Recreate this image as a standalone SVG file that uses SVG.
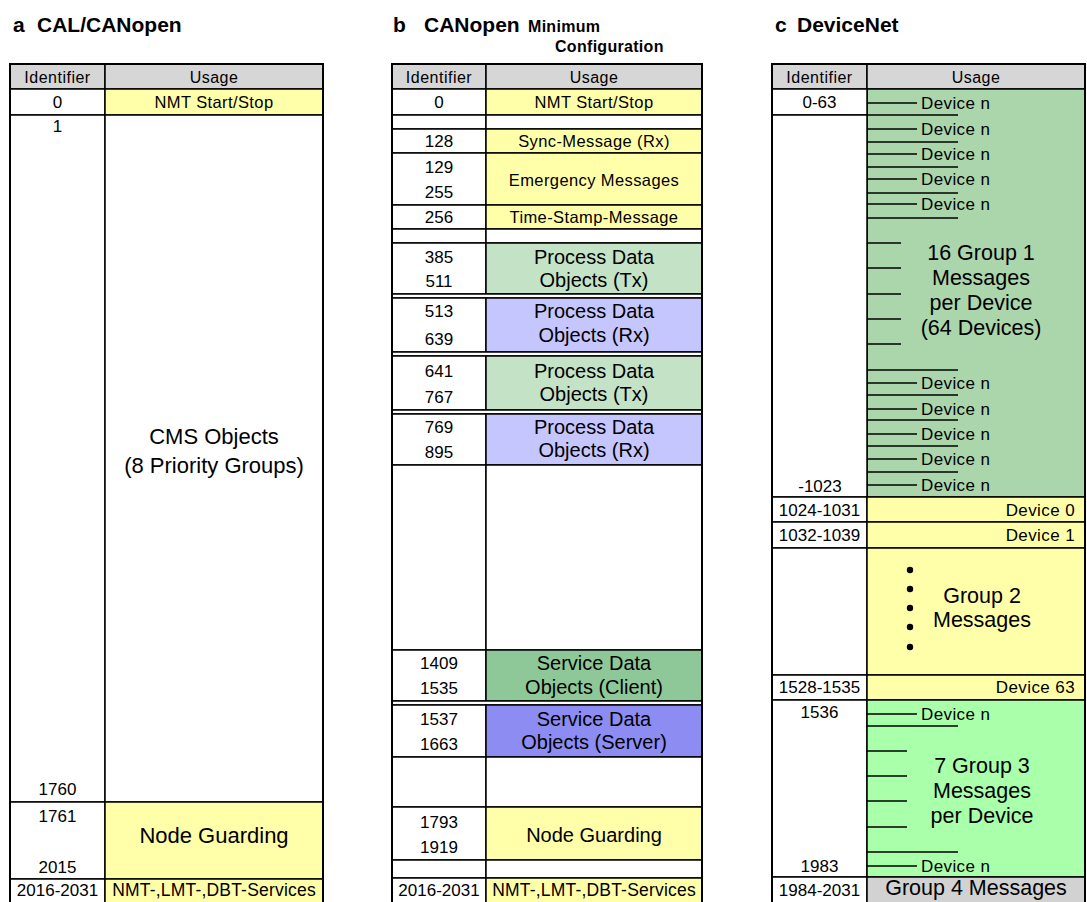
<svg xmlns="http://www.w3.org/2000/svg" width="1087" height="902" viewBox="0 0 1087 902">
<style>
text{font-family:"Liberation Sans",Arial,Helvetica,sans-serif;fill:#000}
.ttl{font-size:21px;font-weight:bold}
.sub{font-size:16px;font-weight:bold;letter-spacing:0.3px}
.hd{font-size:16px;letter-spacing:0.5px;text-anchor:middle}
.num{font-size:17px;text-anchor:middle}
.sm{font-size:16.5px;letter-spacing:0.4px;text-anchor:middle}
.big{font-size:20px;text-anchor:middle}
.big22{font-size:22px;text-anchor:middle}
.grp{font-size:21.5px;text-anchor:middle}
.dev{font-size:17px;letter-spacing:0.4px}
.devr{font-size:17px;letter-spacing:0.4px;text-anchor:end}
.c{stroke:#000;stroke-width:1.5}
.w{fill:#fff}.h{fill:#d6d6d6}.y{fill:#ffffaa}.gt{fill:#c4e3c6}.bl{fill:#c6c6ff}
.sc{fill:#8fc898}.ss{fill:#8c8cf2}.g1{fill:#abd6ab}.g3{fill:#aaffaa}.g4{fill:#d2d2d2}
.ob{fill:none;stroke:#000;stroke-width:2}
.tk{stroke:#000;stroke-width:1.6}
</style>

<!-- Titles -->
<g id="title-a"><text class="ttl" x="13" y="32">a</text><text class="ttl" x="37" y="32">CAL/CANopen</text></g>
<g id="title-b"><text class="ttl" x="393" y="32">b</text><text class="ttl" x="424" y="32">CANopen</text><text class="sub" x="528" y="32">Minimum</text><text class="sub" x="555" y="52">Configuration</text></g>
<g id="title-c"><text class="ttl" x="775" y="32">c</text><text class="ttl" x="797" y="32">DeviceNet</text></g>

<!-- Table a -->
<g id="table-a">
  <g id="a-header"><rect class="c h" x="10" y="64" width="95" height="25"/><rect class="c h" x="105" y="64" width="218" height="25"/>
    <text class="hd" x="57.5" y="83">Identifier</text><text class="hd" x="214" y="83">Usage</text></g>
  <g id="a-nmt"><rect class="c w" x="10" y="89" width="95" height="26"/><rect class="c y" x="105" y="89" width="218" height="26"/>
    <text class="num" x="57.5" y="108">0</text><text class="sm" x="214" y="108">NMT Start/Stop</text></g>
  <g id="a-cms"><rect class="c w" x="10" y="115" width="95" height="687"/><rect class="c w" x="105" y="115" width="218" height="687"/>
    <text class="num" x="57.5" y="132">1</text><text class="num" x="57.5" y="795">1760</text>
    <text class="big22" x="214" y="444">CMS Objects</text><text class="big22" x="214" y="473">(8 Priority Groups)</text></g>
  <g id="a-ng"><rect class="c w" x="10" y="802" width="95" height="77"/><rect class="c y" x="105" y="802" width="218" height="77"/>
    <text class="num" x="57.5" y="822">1761</text><text class="num" x="57.5" y="873">2015</text>
    <text class="big22" x="214" y="843">Node Guarding</text></g>
  <g id="a-srv"><rect class="c w" x="10" y="879" width="95" height="26"/><rect class="c y" x="105" y="879" width="218" height="26"/>
    <text class="num" x="57.5" y="896">2016-2031</text><text class="sm" x="214" y="896" style="font-size:17.5px;letter-spacing:0.2px">NMT-,LMT-,DBT-Services</text></g>
  <rect class="ob" x="10" y="64" width="313" height="841"/>
</g>

<!-- Table b -->
<g id="table-b">
  <g id="b-header"><rect class="c h" x="392" y="64" width="94" height="25"/><rect class="c h" x="486" y="64" width="216" height="25"/>
    <text class="hd" x="439" y="83">Identifier</text><text class="hd" x="594" y="83">Usage</text></g>
  <g id="b-nmt"><rect class="c w" x="392" y="89" width="94" height="26"/><rect class="c y" x="486" y="89" width="216" height="26"/>
    <text class="num" x="439" y="108">0</text><text class="sm" x="594" y="108">NMT Start/Stop</text></g>
  <g id="b-e1"><rect class="c w" x="392" y="115" width="94" height="14"/><rect class="c w" x="486" y="115" width="216" height="14"/></g>
  <g id="b-sync"><rect class="c w" x="392" y="129" width="94" height="24"/><rect class="c y" x="486" y="129" width="216" height="24"/>
    <text class="num" x="439" y="147">128</text><text class="sm" x="594" y="147">Sync-Message (Rx)</text></g>
  <g id="b-emcy"><rect class="c w" x="392" y="153" width="94" height="52"/><rect class="c y" x="486" y="153" width="216" height="52"/>
    <text class="num" x="439" y="173">129</text><text class="num" x="439" y="198">255</text><text class="sm" x="594" y="186">Emergency Messages</text></g>
  <g id="b-time"><rect class="c w" x="392" y="205" width="94" height="24"/><rect class="c y" x="486" y="205" width="216" height="24"/>
    <text class="num" x="439" y="223">256</text><text class="sm" x="594" y="223">Time-Stamp-Message</text></g>
  <g id="b-e2"><rect class="c w" x="392" y="229" width="94" height="14"/><rect class="c w" x="486" y="229" width="216" height="14"/></g>
  <g id="b-pdo1"><rect class="c w" x="392" y="243" width="94" height="51"/><rect class="c gt" x="486" y="243" width="216" height="51"/>
    <text class="num" x="439" y="263">385</text><text class="num" x="439" y="287">511</text>
    <text class="big" x="594" y="264">Process Data</text><text class="big" x="594" y="287">Objects (Tx)</text></g>
  <rect class="c w" x="392" y="294" width="310" height="4"/>
  <g id="b-pdo2"><rect class="c w" x="392" y="298" width="94" height="54"/><rect class="c bl" x="486" y="298" width="216" height="54"/>
    <text class="num" x="439" y="317">513</text><text class="num" x="439" y="345">639</text>
    <text class="big" x="594" y="318">Process Data</text><text class="big" x="594" y="342">Objects (Rx)</text></g>
  <rect class="c w" x="392" y="352" width="310" height="4"/>
  <g id="b-pdo3"><rect class="c w" x="392" y="356" width="94" height="54"/><rect class="c gt" x="486" y="356" width="216" height="54"/>
    <text class="num" x="439" y="377">641</text><text class="num" x="439" y="403">767</text>
    <text class="big" x="594" y="378">Process Data</text><text class="big" x="594" y="401">Objects (Tx)</text></g>
  <rect class="c w" x="392" y="410" width="310" height="4"/>
  <g id="b-pdo4"><rect class="c w" x="392" y="414" width="94" height="51"/><rect class="c bl" x="486" y="414" width="216" height="51"/>
    <text class="num" x="439" y="433">769</text><text class="num" x="439" y="458">895</text>
    <text class="big" x="594" y="434">Process Data</text><text class="big" x="594" y="457">Objects (Rx)</text></g>
  <g id="b-e3"><rect class="c w" x="392" y="465" width="94" height="185"/><rect class="c w" x="486" y="465" width="216" height="185"/></g>
  <g id="b-sdoc"><rect class="c w" x="392" y="650" width="94" height="51"/><rect class="c sc" x="486" y="650" width="216" height="51"/>
    <text class="num" x="439" y="669">1409</text><text class="num" x="439" y="694">1535</text>
    <text class="big" x="594" y="670">Service Data</text><text class="big" x="594" y="694">Objects (Client)</text></g>
  <rect class="c w" x="392" y="701" width="310" height="4"/>
  <g id="b-sdos"><rect class="c w" x="392" y="705" width="94" height="52"/><rect class="c ss" x="486" y="705" width="216" height="52"/>
    <text class="num" x="439" y="725">1537</text><text class="num" x="439" y="750">1663</text>
    <text class="big" x="594" y="726">Service Data</text><text class="big" x="594" y="749">Objects (Server)</text></g>
  <g id="b-e4"><rect class="c w" x="392" y="757" width="94" height="50"/><rect class="c w" x="486" y="757" width="216" height="50"/></g>
  <g id="b-ng"><rect class="c w" x="392" y="807" width="94" height="53"/><rect class="c y" x="486" y="807" width="216" height="53"/>
    <text class="num" x="439" y="828">1793</text><text class="num" x="439" y="853">1919</text>
    <text class="big" x="594" y="842">Node Guarding</text></g>
  <g id="b-e5"><rect class="c w" x="392" y="860" width="94" height="18"/><rect class="c w" x="486" y="860" width="216" height="18"/></g>
  <g id="b-srv"><rect class="c w" x="392" y="878" width="94" height="27"/><rect class="c y" x="486" y="878" width="216" height="27"/>
    <text class="num" x="439" y="896">2016-2031</text><text class="sm" x="594" y="896" style="font-size:17.5px;letter-spacing:0.2px">NMT-,LMT-,DBT-Services</text></g>
  <rect class="ob" x="392" y="64" width="310" height="841"/>
</g>

<!-- Table c -->
<g id="table-c">
  <g id="c-header"><rect class="c h" x="772" y="64" width="95" height="25"/><rect class="c h" x="867" y="64" width="218" height="25"/>
    <text class="hd" x="819.5" y="83">Identifier</text><text class="hd" x="976" y="83">Usage</text></g>
  <g id="c-group1">
    <rect class="c g1" x="867" y="89" width="218" height="408"/>
    <rect class="c w" x="772" y="89" width="95" height="26"/><rect class="c w" x="772" y="115" width="95" height="382"/>
    <text class="num" x="819.5" y="108">0-63</text><text class="num" x="820" y="492">-1023</text>
    <text class="grp" x="981" y="260">16 Group 1</text><text class="grp" x="981" y="285">Messages</text>
    <text class="grp" x="981" y="310">per Device</text><text class="grp" x="981" y="335">(64 Devices)</text>
  </g>
  <g id="c-dev0"><rect class="c w" x="772" y="497" width="95" height="25"/><rect class="c y" x="867" y="497" width="218" height="25"/>
    <text class="num" x="819.5" y="516">1024-1031</text><text class="devr" x="1075" y="516">Device 0</text></g>
  <g id="c-dev1"><rect class="c w" x="772" y="522" width="95" height="26"/><rect class="c y" x="867" y="522" width="218" height="26"/>
    <text class="num" x="819.5" y="541">1032-1039</text><text class="devr" x="1075" y="541">Device 1</text></g>
  <g id="c-group2"><rect class="c w" x="772" y="548" width="95" height="127"/><rect class="c y" x="867" y="548" width="218" height="127"/>
    <circle cx="910" cy="570" r="3.2"/><circle cx="910" cy="589" r="3.2"/><circle cx="910" cy="608" r="3.2"/><circle cx="910" cy="627" r="3.2"/><circle cx="910" cy="647" r="3.2"/>
    <text class="grp" x="982" y="603">Group 2</text><text class="grp" x="982" y="627">Messages</text></g>
  <g id="c-dev63"><rect class="c w" x="772" y="675" width="95" height="25"/><rect class="c y" x="867" y="675" width="218" height="25"/>
    <text class="num" x="819.5" y="693">1528-1535</text><text class="devr" x="1075" y="693">Device 63</text></g>
  <g id="c-group3"><rect class="c w" x="772" y="700" width="95" height="177"/><rect class="c g3" x="867" y="700" width="218" height="177"/>
    <text class="num" x="819.5" y="718">1536</text><text class="num" x="819.5" y="872">1983</text>
    <text class="grp" x="982" y="773">7 Group 3</text><text class="grp" x="982" y="798">Messages</text><text class="grp" x="982" y="823">per Device</text></g>
  <g id="c-group4"><rect class="c w" x="772" y="877" width="95" height="28"/><rect class="c g4" x="867" y="877" width="218" height="28"/>
    <text class="num" x="819.5" y="896">1984-2031</text><text class="grp" x="976" y="895">Group 4 Messages</text></g>
  <rect class="ob" x="772" y="64" width="313" height="841"/>
</g>

<!-- Device tick marks and labels -->
<g id="ticks">
  <g class="tk">
    <line x1="867" y1="103" x2="917" y2="103"/><line x1="867" y1="129" x2="917" y2="129"/><line x1="867" y1="154" x2="917" y2="154"/><line x1="867" y1="179" x2="917" y2="179"/><line x1="867" y1="204" x2="917" y2="204"/>
    <line x1="867" y1="115" x2="958" y2="115"/><line x1="867" y1="142" x2="958" y2="142"/><line x1="867" y1="167" x2="958" y2="167"/><line x1="867" y1="193" x2="958" y2="193"/><line x1="867" y1="218" x2="958" y2="218"/>
    <line x1="867" y1="243" x2="901" y2="243"/><line x1="867" y1="268" x2="901" y2="268"/><line x1="867" y1="294" x2="901" y2="294"/><line x1="867" y1="319" x2="901" y2="319"/><line x1="867" y1="344" x2="901" y2="344"/>
    <line x1="867" y1="370" x2="958" y2="370"/><line x1="867" y1="395" x2="958" y2="395"/><line x1="867" y1="420" x2="958" y2="420"/><line x1="867" y1="446" x2="958" y2="446"/><line x1="867" y1="472" x2="958" y2="472"/>
    <line x1="867" y1="383" x2="917" y2="383"/><line x1="867" y1="409" x2="917" y2="409"/><line x1="867" y1="434" x2="917" y2="434"/><line x1="867" y1="459" x2="917" y2="459"/><line x1="867" y1="485" x2="917" y2="485"/>
    <line x1="867" y1="714" x2="917" y2="714"/><line x1="867" y1="726" x2="958" y2="726"/>
    <line x1="867" y1="751" x2="907" y2="751"/><line x1="867" y1="776" x2="907" y2="776"/><line x1="867" y1="801" x2="907" y2="801"/><line x1="867" y1="827" x2="907" y2="827"/>
    <line x1="867" y1="852" x2="958" y2="852"/><line x1="867" y1="866" x2="917" y2="866"/>
  </g>
  <text class="dev" x="921" y="109">Device n</text><text class="dev" x="921" y="135">Device n</text><text class="dev" x="921" y="160">Device n</text><text class="dev" x="921" y="185">Device n</text><text class="dev" x="921" y="210">Device n</text>
  <text class="dev" x="921" y="389">Device n</text><text class="dev" x="921" y="415">Device n</text><text class="dev" x="921" y="440">Device n</text><text class="dev" x="921" y="465">Device n</text><text class="dev" x="921" y="491">Device n</text>
  <text class="dev" x="921" y="720">Device n</text><text class="dev" x="921" y="872">Device n</text>
</g>
</svg>
